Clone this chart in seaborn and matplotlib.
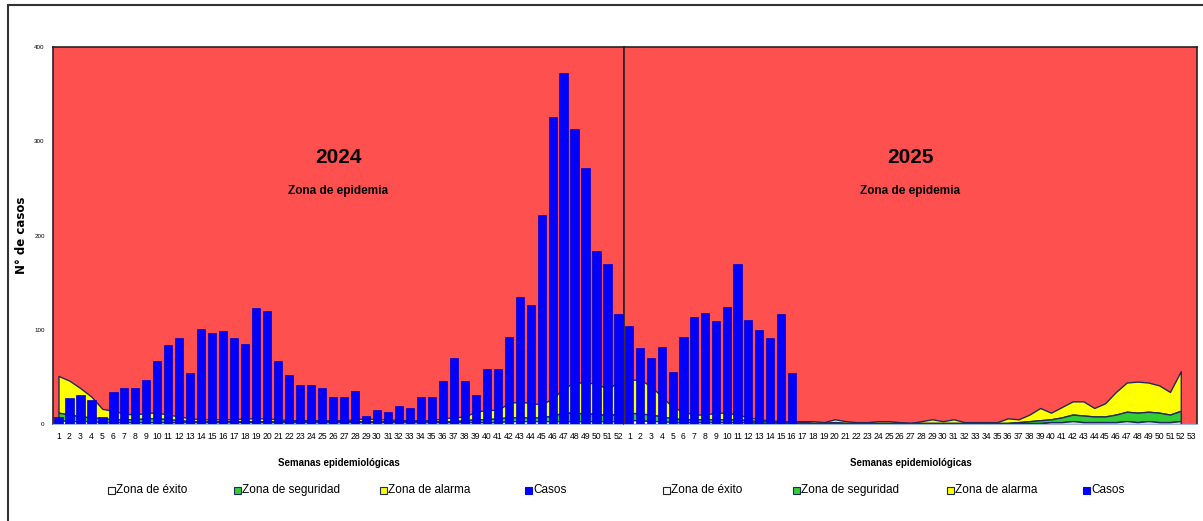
import pandas as pd
import numpy as np
import seaborn as sns
import matplotlib.pyplot as plt
from matplotlib.patches import Rectangle

# casos por semana epidemiologica
casos_2024 = [7, 28, 31, 25, 7, 34, 38, 38, 47, 67, 84, 91, 54, 101, 97, 99, 91, 85, 123, 120,
              67, 52, 41, 41, 38, 29, 29, 35, 8, 15, 13, 19, 17, 29, 29, 46, 70, 46, 31, 58,
              58, 92, 135, 126, 222, 326, 372, 313, 272, 184, 170, 117]
casos_2025 = [104, 81, 70, 82, 55, 92, 114, 118, 109, 124, 170, 110, 100, 91, 117, 54]

# limites superiores del canal endemico
exito_2024 = [4, 3, 3, 3, 2, 2, 2, 2, 2, 2, 2, 2, 2, 2, 2, 2, 2, 2, 2, 2,
              2, 2, 2, 2, 2, 2, 2, 2, 2, 2, 2, 2, 2, 2, 2, 2, 2, 2, 2, 2,
              2, 3, 3, 3, 3, 3, 3, 3, 3, 3, 3, 3]
seguridad_2024 = [12, 10, 8, 7, 6, 5, 5, 5, 6, 6, 5, 4, 3, 3, 3, 3, 3, 3, 3, 3,
                  3, 3, 3, 3, 3, 3, 3, 3, 3, 3, 3, 3, 3, 3, 3, 3, 3, 4, 5, 5,
                  6, 7, 7, 7, 7, 9, 12, 12, 11, 11, 9, 11]
alarma_2024 = [51, 46, 38, 29, 16, 14, 11, 10, 12, 12, 10, 8, 6, 5, 5, 5, 5, 6, 6, 6,
               5, 4, 4, 4, 4, 4, 4, 5, 6, 5, 5, 4, 4, 4, 4, 6, 7, 8, 13, 15,
               15, 22, 24, 22, 21, 27, 38, 44, 44, 43, 37, 45]

exito_2025 = [4, 4, 3, 3, 2, 2, 2, 2, 2, 2, 2, 2, 1, 1, 1, 1, 1, 1, 1, 1,
              1, 1, 1, 1, 1, 1, 1, 1, 1, 1, 1, 1, 1, 1, 1, 1, 1, 1, 1, 2,
              2, 3, 2, 2, 2, 2, 3, 2, 3, 2, 2, 3]
seguridad_2025 = [12, 11, 10, 8, 6, 5, 5, 5, 5, 5, 5, 4, 3, 3, 2, 2, 2, 1, 1, 2,
                  1, 1, 1, 1, 1, 1, 1, 1, 1, 1, 1, 1, 1, 1, 1, 1, 2, 3, 4, 5,
                  7, 10, 9, 8, 8, 10, 13, 12, 13, 12, 10, 14]
alarma_2025 = [47, 47, 40, 29, 18, 13, 10, 10, 12, 12, 10, 7, 5, 4, 3, 3, 3, 3, 2, 5,
               3, 2, 2, 3, 3, 2, 1, 3, 5, 3, 5, 2, 2, 2, 2, 6, 5, 10, 17, 12,
               18, 24, 24, 17, 22, 34, 44, 45, 44, 41, 34, 56]

semanas_2024 = list(range(1, 53))
semanas_2025 = list(range(1, 54))

leyenda = ['Zona de éxito', 'Zona de seguridad', 'Zona de alarma', 'Casos']

sns.set_style('white')
plt.rcParams['font.family'] = ['Liberation Sans', 'DejaVu Sans']
plt.rcParams['text.color'] = 'black'
plt.rcParams['axes.labelcolor'] = 'black'
plt.rcParams['xtick.color'] = 'black'
plt.rcParams['ytick.color'] = 'black'

rojo = '#FF5050'
borde = '#1F2A5C'
colores_leyenda = ['white', '#33CC33', '#FFFF00', '#0000FF']
bordes_leyenda = ['#222222', borde, borde, '#0000FF']

fig = plt.figure(figsize=(12.03, 5.21), dpi=100)
W, H = 1203, 521
ax1 = fig.add_axes([53 / W, (H - 424) / H, (624 - 53) / W, 377 / H])
ax2 = fig.add_axes([624 / W, (H - 424) / H, (1197 - 624) / W, 377 / H])

# marco exterior
fig.patches.append(Rectangle((8 / W, -0.05), 1.1, 1 - 5 / H + 0.05, transform=fig.transFigure,
                             fill=False, edgecolor='#333333', linewidth=1.5))


def canal(ax, semanas, casos, exito, seguridad, alarma, anio, x_leyenda):
    ax.set_facecolor(rojo)
    x = np.arange(len(exito))
    ax.fill_between(x, seguridad, alarma, color='#FFFF00', edgecolor=borde, linewidth=1, zorder=1)
    ax.fill_between(x, exito, seguridad, color='#33CC33', edgecolor=borde, linewidth=1, zorder=1)
    ax.fill_between(x, 0, exito, color='white', edgecolor=borde, linewidth=1, zorder=1)

    df = pd.DataFrame({'pos': np.arange(len(casos)), 'casos': casos})
    sns.barplot(data=df, x='pos', y='casos', native_scale=True, color='#0000FF',
                saturation=1, width=0.75, edgecolor='#0000CC', linewidth=0.5, ax=ax, zorder=3)

    ax.set_xlim(-0.5, len(semanas) - 0.5)
    ax.set_ylim(0, 400)
    ax.set_xticks(np.arange(len(semanas)))
    ax.set_xticklabels(semanas, fontsize=6.2)
    ax.tick_params(axis='x', length=0, pad=6)
    ax.set_xlabel('')
    ax.set_ylabel('')
    for s in ['top', 'left', 'right']:
        ax.spines[s].set_color('#222222')
        ax.spines[s].set_linewidth(1.2)
    ax.spines['bottom'].set_color('#9DB3D8')

    ax.text(0.5, 0.706, str(anio), transform=ax.transAxes, ha='center', va='center',
            fontsize=15, fontweight='bold')
    ax.text(0.5, 0.618, 'Zona de epidemia', transform=ax.transAxes, ha='center', va='center',
            fontsize=8.5, fontweight='bold')
    ax.text(0.5, -0.103, 'Semanas epidemiológicas', transform=ax.transAxes, ha='center',
            va='center', fontsize=7, fontweight='bold')

    # leyenda
    y = (H - 490) / H
    for px, txt, fc, ec in zip(x_leyenda, leyenda, colores_leyenda, bordes_leyenda):
        fig.patches.append(Rectangle((px / W, y - 3.5 / H), 7 / W, 7 / H, transform=fig.transFigure,
                                     facecolor=fc, edgecolor=ec, linewidth=0.8))
        fig.text((px + 8) / W, y, txt, ha='left', va='center', fontsize=8.5)


canal(ax1, semanas_2024, casos_2024, exito_2024, seguridad_2024, alarma_2024, 2024,
      [108, 234, 380, 525])
canal(ax2, semanas_2025, casos_2025, exito_2025, seguridad_2025, alarma_2025, 2025,
      [663, 793, 947, 1083])

ax1.set_yticks([0, 100, 200, 300, 400])
ax1.tick_params(axis='y', labelsize=4.5, length=0, pad=6)
ax1.set_ylabel('N° de casos', fontsize=8.5, fontweight='bold', family='DejaVu Sans')
ax1.yaxis.set_label_coords((28 - 53) / 571, (424 - 235) / 377)
ax2.set_yticks([])

fig.savefig('out.png', dpi=100)
